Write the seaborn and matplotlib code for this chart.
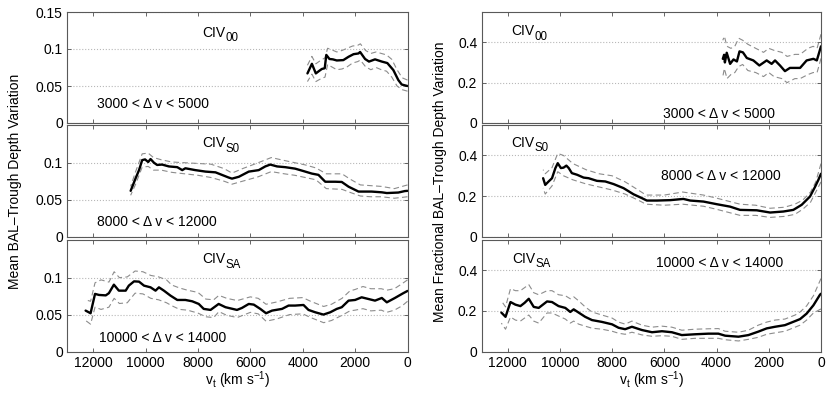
import matplotlib
matplotlib.use("Agg")
import matplotlib.pyplot as plt
import seaborn as sns

# ---- left column: mean BAL-trough depth variation ----
vt_l00 = [3820, 3650, 3500, 3350, 3270, 3160, 3100, 2980, 2850, 2700, 2450, 2250, 2060,
          1870, 1810, 1620, 1470, 1240, 980, 770, 540, 350, 220, 60, 0]
mean_l00 = [0.067, 0.080, 0.067, 0.071, 0.073, 0.074, 0.092, 0.0865, 0.086, 0.0845, 0.085,
            0.0895, 0.093, 0.094, 0.096, 0.0865, 0.083, 0.086, 0.083, 0.081, 0.0715, 0.058,
            0.052, 0.0505, 0.050]
band_l00 = [3820, 3650, 3500, 3300, 3150, 3050, 2900, 2700, 2500, 2300, 2100, 1900, 1800,
            1600, 1400, 1200, 1000, 800, 600, 400, 200, 0]
hi_l00 = [0.078, 0.090, 0.080, 0.085, 0.088, 0.101, 0.099, 0.096, 0.098, 0.101, 0.104, 0.105,
          0.107, 0.098, 0.094, 0.096, 0.094, 0.092, 0.086, 0.072, 0.061, 0.058]
lo_l00 = [0.056, 0.066, 0.056, 0.060, 0.062, 0.079, 0.076, 0.072, 0.073, 0.076, 0.081, 0.083,
          0.085, 0.076, 0.072, 0.075, 0.072, 0.070, 0.062, 0.050, 0.045, 0.043]

vt_ls0 = [10570, 10380, 10250, 10130, 10020, 9900, 9810, 9680, 9560, 9370, 9110, 8790, 8600,
          8480, 8100, 7710, 7330, 6830, 6700, 6440, 6060, 5680, 5430, 5240, 4980, 4670, 4290,
          3970, 3650, 3400, 3140, 2760, 2510, 2250, 1870, 1370, 980, 790, 350, 100, 0]
mean_ls0 = [0.062, 0.079, 0.090, 0.1035, 0.1045, 0.101, 0.105, 0.100, 0.097, 0.0975, 0.095,
            0.094, 0.090, 0.0925, 0.090, 0.088, 0.087, 0.080, 0.0785, 0.081, 0.088, 0.090,
            0.095, 0.0975, 0.095, 0.094, 0.092, 0.0887, 0.0853, 0.0836, 0.0743, 0.0743, 0.074,
            0.0676, 0.061, 0.061, 0.060, 0.059, 0.0597, 0.0617, 0.062]
band_ls0 = [10570, 10380, 10130, 9900, 9700, 9400, 9000, 8500, 8000, 7500, 7000, 6700, 6300,
            5700, 5200, 4700, 4300, 3900, 3500, 3100, 2500, 2200, 1800, 1400, 1000, 500, 0]
hi_ls0 = [0.068, 0.088, 0.112, 0.113, 0.107, 0.104, 0.101, 0.100, 0.099, 0.098, 0.092, 0.086,
          0.092, 0.100, 0.107, 0.103, 0.100, 0.097, 0.093, 0.085, 0.085, 0.078, 0.070, 0.069,
          0.068, 0.065, 0.070]
lo_ls0 = [0.056, 0.071, 0.094, 0.095, 0.090, 0.090, 0.087, 0.085, 0.083, 0.080, 0.075, 0.071,
          0.075, 0.081, 0.088, 0.085, 0.083, 0.080, 0.077, 0.065, 0.064, 0.060, 0.055, 0.054,
          0.054, 0.052, 0.054]

vt_lsa = [12290, 12100, 11930, 11780, 11520, 11400, 11210, 11020, 10760, 10640, 10440, 10250,
          10060, 9810, 9620, 9490, 9300, 9050, 8790, 8480, 8220, 7970, 7780, 7520, 7210, 6950,
          6510, 6320, 6060, 5870, 5620, 5400, 5170, 4790, 4540, 4290, 3970, 3780, 3520, 3210,
          2950, 2700, 2510, 2250, 2000, 1750, 1490, 1240, 980, 790, 480, 160, 0]
mean_lsa = [0.0554, 0.0518, 0.078, 0.0766, 0.076, 0.079, 0.0905, 0.0824, 0.0824, 0.0892, 0.095,
            0.0946, 0.0892, 0.0869, 0.0824, 0.0869, 0.0824, 0.0757, 0.0698, 0.0698, 0.068,
            0.0644, 0.0577, 0.0563, 0.0644, 0.060, 0.0563, 0.059, 0.0644, 0.0635, 0.0577,
            0.0518, 0.0554, 0.0577, 0.0622, 0.0622, 0.063, 0.0563, 0.0531, 0.050, 0.0531,
            0.0577, 0.060, 0.0689, 0.0698, 0.0734, 0.0711, 0.0689, 0.0725, 0.0666, 0.0725,
            0.079, 0.082]
band_lsa = [12290, 12100, 11930, 11700, 11400, 11200, 11000, 10700, 10400, 10100, 9800, 9500,
            9200, 9000, 8700, 8400, 8000, 7700, 7400, 7200, 6900, 6500, 6000, 5700, 5400, 5000,
            4500, 4000, 3700, 3200, 2900, 2500, 2200, 2000, 1700, 1400, 1000, 800, 500, 200, 0]
hi_lsa = [0.070, 0.068, 0.093, 0.097, 0.094, 0.108, 0.100, 0.101, 0.109, 0.108, 0.103, 0.101,
          0.097, 0.090, 0.086, 0.083, 0.080, 0.071, 0.070, 0.076, 0.072, 0.069, 0.074, 0.072,
          0.064, 0.067, 0.072, 0.073, 0.068, 0.061, 0.064, 0.072, 0.082, 0.084, 0.088, 0.085,
          0.085, 0.083, 0.085, 0.092, 0.097]
lo_lsa = [0.042, 0.037, 0.060, 0.057, 0.060, 0.072, 0.065, 0.066, 0.079, 0.078, 0.072, 0.070,
          0.066, 0.062, 0.057, 0.056, 0.052, 0.047, 0.046, 0.054, 0.049, 0.046, 0.053, 0.051,
          0.041, 0.044, 0.050, 0.051, 0.046, 0.039, 0.042, 0.049, 0.055, 0.056, 0.058, 0.055,
          0.056, 0.053, 0.056, 0.062, 0.068]

# ---- right column: mean fractional BAL-trough depth variation ----
vt_r00 = [3760, 3710, 3680, 3610, 3480, 3350, 3220, 3120, 2990, 2840, 2590, 2360, 2080, 1890,
          1760, 1570, 1380, 1190, 800, 550, 290, 160, 0]
mean_r00 = [0.318, 0.338, 0.300, 0.348, 0.293, 0.315, 0.305, 0.355, 0.350, 0.322, 0.310, 0.285,
            0.310, 0.293, 0.310, 0.285, 0.257, 0.273, 0.273, 0.310, 0.318, 0.310, 0.380]
band_r00 = [3760, 3700, 3600, 3450, 3300, 3150, 3000, 2800, 2500, 2200, 2000, 1800, 1500, 1300,
            1000, 800, 500, 300, 150, 0]
hi_r00 = [0.41, 0.43, 0.38, 0.37, 0.38, 0.42, 0.41, 0.39, 0.37, 0.35, 0.37, 0.36, 0.35, 0.33,
          0.34, 0.34, 0.37, 0.38, 0.37, 0.44]
lo_r00 = [0.23, 0.27, 0.22, 0.24, 0.25, 0.28, 0.29, 0.26, 0.25, 0.23, 0.25, 0.23, 0.22, 0.20,
          0.22, 0.22, 0.24, 0.25, 0.25, 0.32]

vt_rs0 = [10640, 10560, 10430, 10300, 10170, 10080, 9960, 9860, 9750, 9660, 9540, 9340, 9090,
          8900, 8580, 8260, 7940, 7560, 7180, 6860, 6670, 6280, 5770, 5270, 5010, 4500, 3990,
          3480, 3100, 2460, 1950, 1440, 1060, 740, 420, 230, 100, 0]
mean_rs0 = [0.288, 0.255, 0.272, 0.288, 0.338, 0.362, 0.338, 0.340, 0.350, 0.338, 0.313, 0.305,
            0.291, 0.288, 0.275, 0.272, 0.259, 0.239, 0.209, 0.190, 0.178, 0.178, 0.180, 0.186,
            0.178, 0.173, 0.160, 0.148, 0.132, 0.130, 0.119, 0.124, 0.132, 0.157, 0.198, 0.245,
            0.280, 0.310]
band_rs0 = [10640, 10560, 10300, 10080, 9860, 9500, 9000, 8500, 8000, 7500, 7000, 6700, 6000,
            5300, 4500, 4000, 3100, 2500, 1950, 1400, 1000, 700, 400, 200, 0]
hi_rs0 = [0.33, 0.31, 0.34, 0.41, 0.40, 0.36, 0.33, 0.31, 0.30, 0.27, 0.23, 0.205, 0.205, 0.22,
          0.205, 0.19, 0.16, 0.155, 0.14, 0.145, 0.16, 0.18, 0.22, 0.27, 0.36]
lo_rs0 = [0.24, 0.21, 0.25, 0.32, 0.30, 0.28, 0.26, 0.245, 0.23, 0.21, 0.18, 0.16, 0.155, 0.16,
          0.15, 0.135, 0.105, 0.105, 0.095, 0.10, 0.11, 0.135, 0.17, 0.22, 0.27]

vt_rsa = [12240, 12080, 11890, 11700, 11510, 11350, 11190, 11000, 10810, 10680, 10490, 10300,
          10050, 9790, 9600, 9470, 9280, 9030, 8770, 8390, 8000, 7750, 7500, 7240, 6860, 6470,
          6090, 5710, 5330, 4820, 4310, 3930, 3670, 3160, 2780, 2400, 2080, 1760, 1380, 990,
          800, 550, 290, 40, 0]
mean_rsa = [0.192, 0.171, 0.244, 0.231, 0.224, 0.240, 0.260, 0.220, 0.215, 0.228, 0.247, 0.244,
            0.224, 0.215, 0.195, 0.208, 0.192, 0.171, 0.155, 0.146, 0.134, 0.117, 0.110, 0.122,
            0.106, 0.095, 0.100, 0.095, 0.081, 0.085, 0.088, 0.088, 0.078, 0.073, 0.081, 0.098,
            0.114, 0.122, 0.130, 0.150, 0.160, 0.187, 0.228, 0.280, 0.285]
band_rsa = [12240, 12080, 11890, 11700, 11510, 11190, 11000, 10810, 10490, 10300, 10050, 9790,
            9600, 9470, 9280, 9030, 8770, 8390, 8000, 7750, 7500, 7240, 6860, 6470, 6090, 5710,
            5330, 4820, 4310, 3930, 3670, 3160, 2780, 2400, 2080, 1760, 1380, 990, 800, 550,
            290, 0]
hi_rsa = [0.25, 0.22, 0.31, 0.30, 0.30, 0.33, 0.29, 0.28, 0.30, 0.30, 0.28, 0.275, 0.26, 0.27,
          0.25, 0.22, 0.195, 0.18, 0.165, 0.145, 0.135, 0.15, 0.13, 0.12, 0.125, 0.12, 0.105,
          0.11, 0.112, 0.113, 0.10, 0.095, 0.105, 0.13, 0.145, 0.155, 0.16, 0.18, 0.195, 0.225,
          0.275, 0.36]
lo_rsa = [0.14, 0.11, 0.17, 0.155, 0.15, 0.18, 0.15, 0.14, 0.19, 0.19, 0.175, 0.16, 0.14, 0.15,
          0.135, 0.125, 0.115, 0.11, 0.10, 0.09, 0.085, 0.095, 0.082, 0.075, 0.078, 0.075, 0.06,
          0.065, 0.065, 0.065, 0.058, 0.052, 0.06, 0.07, 0.085, 0.092, 0.10, 0.12, 0.13, 0.155,
          0.19, 0.21]

x_ticks = [12000, 10000, 8000, 6000, 4000, 2000, 0]
left_yticks = [0, 0.05, 0.1, 0.15]
right_yticks = [0, 0.2, 0.4]

sns.set_theme(style="ticks")
plt.rcParams["font.family"] = ["Liberation Sans", "DejaVu Sans"]
plt.rcParams["mathtext.fontset"] = "custom"
plt.rcParams["mathtext.rm"] = "Liberation Sans"
plt.rcParams["mathtext.it"] = "Liberation Sans:italic"
plt.rcParams["text.color"] = "black"
plt.rcParams["axes.labelcolor"] = "black"

fig = plt.figure(figsize=(8.3, 3.99), dpi=100)
W, H = 830.0, 399.0
rows = [(12, 123), (125, 236.7), (240, 351.5)]
cols = [(67, 407.5), (481.5, 821)]


def make_ax(col, row):
    x0, x1 = cols[col]
    y0, y1 = rows[row]
    return fig.add_axes([x0 / W, 1 - y1 / H, (x1 - x0) / W, (y1 - y0) / H])


def draw(ax, vt, mean, band, hi, lo, ymax, yticks, bottom):
    sns.lineplot(x=band, y=hi, ax=ax, color="0.55", lw=0.8, linestyle=(0, (5, 3)), estimator=None)
    sns.lineplot(x=band, y=lo, ax=ax, color="0.55", lw=0.8, linestyle=(0, (5, 3)), estimator=None)
    sns.lineplot(x=vt, y=mean, ax=ax, color="black", lw=1.7, estimator=None)
    ax.set_xlim(13000, 0)
    ax.set_ylim(0, ymax)
    ax.set_xticks(x_ticks)
    ax.set_yticks(yticks)
    ax.set_yticklabels([f"{t:g}" for t in yticks])
    if not bottom:
        ax.set_xticklabels([])
    ax.set_xlabel("")
    ax.set_ylabel("")
    ax.yaxis.grid(True, linestyle=":", color="0.72", lw=0.8)
    ax.tick_params(direction="in", top=True, right=True, length=3, width=0.6,
                   labelsize=10, pad=3, colors="0.3", labelcolor="black")
    for s in ax.spines.values():
        s.set_color("0.35")
        s.set_linewidth(0.8)


panels = [
    (0, 0, vt_l00, mean_l00, band_l00, hi_l00, lo_l00, 0.15, left_yticks),
    (0, 1, vt_ls0, mean_ls0, band_ls0, hi_ls0, lo_ls0, 0.151, left_yticks[:3]),
    (0, 2, vt_lsa, mean_lsa, band_lsa, hi_lsa, lo_lsa, 0.151, left_yticks[:3]),
    (1, 0, vt_r00, mean_r00, band_r00, hi_r00, lo_r00, 0.55, right_yticks),
    (1, 1, vt_rs0, mean_rs0, band_rs0, hi_rs0, lo_rs0, 0.55, right_yticks),
    (1, 2, vt_rsa, mean_rsa, band_rsa, hi_rsa, lo_rsa, 0.55, right_yticks),
]
axes = {}
for col, row, vt, mean, band, hi, lo, ymax, yt in panels:
    ax = make_ax(col, row)
    draw(ax, vt, mean, band, hi, lo, ymax, yt, row == 2)
    axes[(col, row)] = ax

fs = 10
ion_labels = [
    ((0, 0), 7830, 0.1166, "00"),
    ((0, 1), 7830, 0.1208, "S0"),
    ((0, 2), 7830, 0.1199, "SA"),
    ((1, 0), 11866, 0.435, "00"),
    ((1, 1), 11866, 0.444, "S0"),
    ((1, 2), 11828, 0.439, "SA"),
]
for key, x, y, sub in ion_labels:
    ax = axes[key]
    t = ax.text(x, y, "CIV", fontsize=fs, ha="left", va="baseline")
    ax.annotate(sub, xy=(1, 0), xycoords=t, xytext=(0.3, -1.2), textcoords="offset points",
                fontsize=8.3, ha="left", va="baseline")

range_labels = [
    ((0, 0), 11870, 0.0199, "3000 < Δ v < 5000"),
    ((0, 1), 11870, 0.0145, "8000 < Δ v < 12000"),
    ((0, 2), 11790, 0.0126, "10000 < Δ v < 14000"),
    ((1, 0), 6042, 0.027, "3000 < Δ v < 5000"),
    ((1, 1), 6130, 0.280, "8000 < Δ v < 12000"),
    ((1, 2), 6310, 0.418, "10000 < Δ v < 14000"),
]
for key, x, y, s in range_labels:
    axes[key].text(x, y, s, fontsize=fs, ha="left", va="baseline")

xl = r"v$_{\mathrm{t}}$ (km s$^{-1}$)"
axes[(0, 2)].set_xlabel(xl, fontsize=fs, labelpad=0)
axes[(1, 2)].set_xlabel(xl, fontsize=fs, labelpad=0)

yc = 1 - (12 + 351.5) / 2 / H
fig.text(15 / W, yc, "Mean BAL–Trough Depth Variation", rotation=90,
         ha="center", va="center", fontsize=fs)
fig.text(440 / W, yc, "Mean Fractional BAL–Trough Depth Variation", rotation=90,
         ha="center", va="center", fontsize=fs)

fig.savefig("out.png", dpi=100)
